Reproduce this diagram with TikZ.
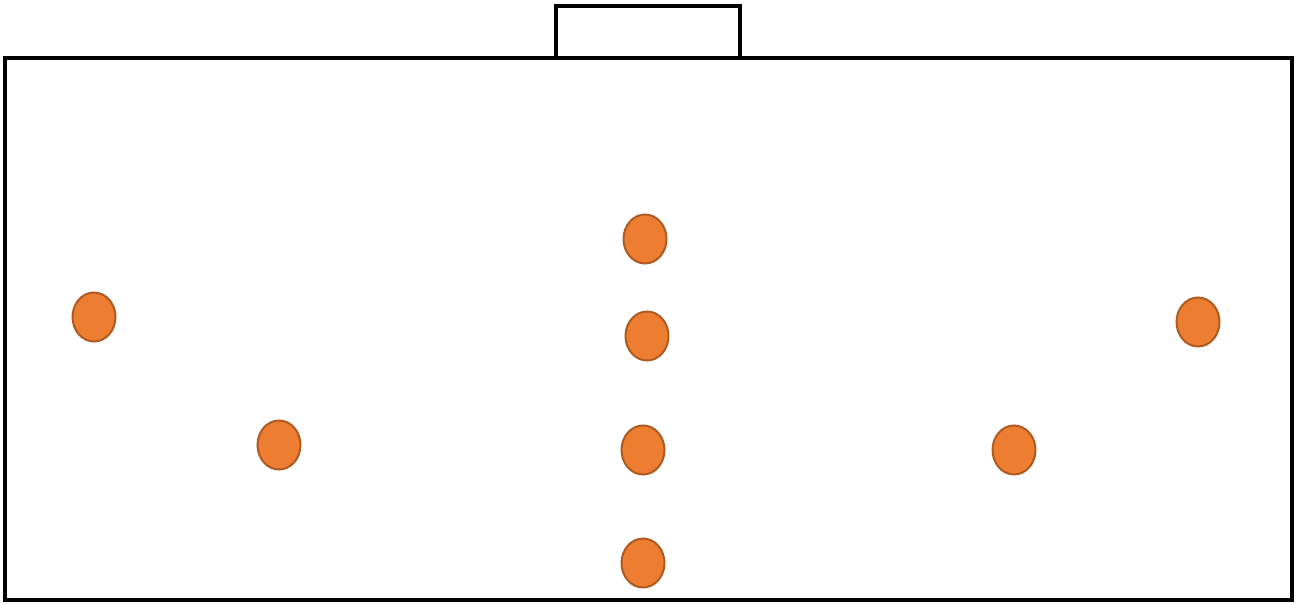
\documentclass[tikz,border=0pt]{standalone}
\usetikzlibrary{shapes.geometric}
\definecolor{dotfill}{HTML}{ED7D31}
\definecolor{dotedge}{HTML}{AE5A21}
\tikzset{
  frame/.style={draw=black, line width=4.5pt},
  dot/.style={ellipse, draw=dotedge, fill=dotfill, line width=2pt, minimum width=43pt, minimum height=49pt, inner sep=0pt}
}
\begin{document}
\begin{tikzpicture}[x=1pt,y=-1pt]
\useasboundingbox (0,0) rectangle (1298,604);
\draw[frame] (5,58) rectangle (1292,600);
\draw[frame] (556,58) -- (556,6) -- (740,6) -- (740,58);
\node[dot] (d1) at (645,239) {};
\node[dot] (d2) at (647,336) {};
\node[dot] (d3) at (94,317) {};
\node[dot] (d4) at (1198,322) {};
\node[dot] (d5) at (279,445) {};
\node[dot] (d6) at (643,450) {};
\node[dot] (d7) at (1014,450) {};
\node[dot] (d8) at (643,563) {};
\end{tikzpicture}
\end{document}
